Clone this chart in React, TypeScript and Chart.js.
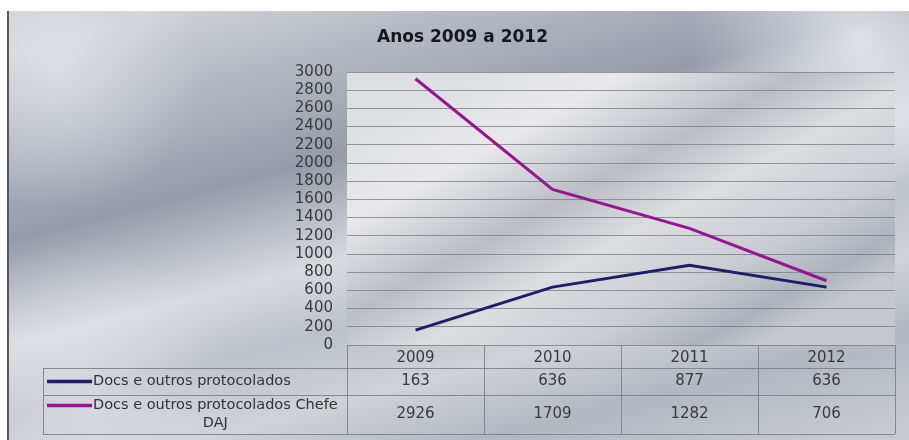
import React, { useEffect, useRef } from "react";
import { Chart, registerables } from "chart.js";

Chart.register(...registerables);

// ---- data ----
const titleText = "Anos 2009 a 2012";
const categories = ["2009", "2010", "2011", "2012"];
const seriesNames = ["Docs e outros protocolados", "Docs e outros protocolados Chefe DAJ"];
const docsProtocolados = [163, 636, 877, 636];
const docsChefeDAJ = [2926, 1709, 1282, 706];
const seriesColors = ["#1b1f68", "#961591"];
const yMin = 0;
const yMax = 3000;
const yStep = 200;

const FONT = "'DejaVu Sans', Verdana, sans-serif";

function wrapText(ctx: CanvasRenderingContext2D, text: string, maxW: number): string[] {
  const words = text.split(" ");
  const lines: string[] = [];
  let cur = "";
  for (const w of words) {
    const test = cur ? cur + " " + w : w;
    if (ctx.measureText(test).width > maxW && cur) {
      lines.push(cur);
      cur = w;
    } else cur = test;
  }
  if (cur) lines.push(cur);
  return lines;
}

function lightSpot(ctx: CanvasRenderingContext2D, x: number, y: number, r: number, alpha: number) {
  const rg = ctx.createRadialGradient(x, y, 0, x, y, r);
  rg.addColorStop(0, `rgba(232,234,238,${alpha})`);
  rg.addColorStop(1, "rgba(232,234,238,0)");
  ctx.fillStyle = rg;
  ctx.fillRect(x - r, y - r, r * 2, r * 2);
}

const backgroundPlugin = {
  id: "metalBackground",
  beforeDraw(chart: any) {
    const { ctx, width, height, chartArea: ca } = chart;
    ctx.save();
    ctx.fillStyle = "#ffffff";
    ctx.fillRect(0, 0, width, height);

    const frameX = 7;
    const frameY = 11;
    ctx.beginPath();
    ctx.rect(frameX, frameY, width - frameX, height - frameY);
    ctx.clip();

    const g = ctx.createLinearGradient(300, -20, 450, 560);
    g.addColorStop(0, "#cdd0d5");
    g.addColorStop(0.1, "#b9bdc5");
    g.addColorStop(0.2, "#a8adb8");
    g.addColorStop(0.3, "#959ba8");
    g.addColorStop(0.38, "#b5b9c2");
    g.addColorStop(0.47, "#d8dadf");
    g.addColorStop(0.58, "#bcc0c8");
    g.addColorStop(0.7, "#cfd2d7");
    g.addColorStop(0.82, "#b3b7c0");
    g.addColorStop(1, "#cacdd2");
    ctx.fillStyle = g;
    ctx.fillRect(frameX, frameY, width - frameX, height - frameY);

    lightSpot(ctx, 860, 40, 170, 0.85);
    lightSpot(ctx, 60, 70, 140, 0.6);
    lightSpot(ctx, 80, 400, 160, 0.55);

    // plot area
    const pg = ctx.createLinearGradient(ca.left + 120, ca.top, ca.left + 300, ca.bottom + 60);
    pg.addColorStop(0, "#dedfe2");
    pg.addColorStop(0.2, "#e9e9eb");
    pg.addColorStop(0.42, "#babdc4");
    pg.addColorStop(0.58, "#dcdde0");
    pg.addColorStop(0.78, "#c9ccd2");
    pg.addColorStop(0.92, "#aeb2bb");
    pg.addColorStop(1, "#c4c7cd");
    ctx.fillStyle = pg;
    ctx.fillRect(ca.left, ca.top, ca.right - ca.left, ca.bottom - ca.top);

    // frame left line
    ctx.strokeStyle = "#5a5a5a";
    ctx.lineWidth = 2;
    ctx.beginPath();
    ctx.moveTo(frameX + 1, frameY);
    ctx.lineTo(frameX + 1, height);
    ctx.stroke();
    ctx.restore();
  },
};

const dataTablePlugin = {
  id: "dataTable",
  afterDraw(chart: any) {
    const { ctx, chartArea: ca } = chart;
    const xs = chart.scales.x;
    const n = categories.length;
    const colW = (ca.right - ca.left) / n;
    const headerTop = ca.bottom;
    const row1Top = headerTop + 23;
    const row2Top = row1Top + 27;
    const tableBottom = row2Top + 39;
    const tableLeft = 43;
    const markerX0 = 47;
    const markerX1 = 92;
    const labelX = 93;

    ctx.save();
    ctx.strokeStyle = "rgba(125,128,136,0.9)";
    ctx.lineWidth = 1;
    ctx.beginPath();
    for (let i = 0; i <= n; i++) {
      const x = Math.round(ca.left + i * colW) + 0.5;
      ctx.moveTo(x, headerTop);
      ctx.lineTo(x, tableBottom);
    }
    for (const y of [row1Top, row2Top, tableBottom]) {
      ctx.moveTo(tableLeft, Math.round(y) + 0.5);
      ctx.lineTo(ca.right, Math.round(y) + 0.5);
    }
    ctx.moveTo(tableLeft + 0.5, row1Top);
    ctx.lineTo(tableLeft + 0.5, tableBottom);
    ctx.stroke();

    const rows = [
      { top: row1Top, bottom: row2Top, data: docsProtocolados },
      { top: row2Top, bottom: tableBottom, data: docsChefeDAJ },
    ];
    ctx.font = `14.5px ${FONT}`;
    ctx.textBaseline = "middle";
    rows.forEach((r, k) => {
      const lines = wrapText(ctx, seriesNames[k], ca.left - labelX - 2);
      const lh = 18;
      const mid = (r.top + r.bottom) / 2;
      const firstY = mid - ((lines.length - 1) * lh) / 2;
      // legend marker
      ctx.strokeStyle = seriesColors[k];
      ctx.lineWidth = 3.5;
      ctx.beginPath();
      ctx.moveTo(markerX0, firstY);
      ctx.lineTo(markerX1, firstY);
      ctx.stroke();
      // label
      ctx.fillStyle = "#333333";
      const w0 = ctx.measureText(lines[0]).width;
      const center = labelX + w0 / 2;
      lines.forEach((ln, j) => {
        ctx.textAlign = "center";
        ctx.fillText(ln, center, firstY + j * lh);
      });
      // values
      ctx.font = `15px ${FONT}`;
      ctx.fillStyle = "#3a3a3a";
      ctx.textAlign = "center";
      r.data.forEach((v, i) => {
        ctx.fillText(String(v), xs.getPixelForValue(i), mid);
      });
      ctx.font = `14.5px ${FONT}`;
    });
    ctx.restore();
  },
};

export default function App() {
  const canvasRef = useRef<HTMLCanvasElement | null>(null);

  useEffect(() => {
    if (!canvasRef.current) return;
    const chart = new Chart(canvasRef.current, {
      type: "line",
      data: {
        labels: categories,
        datasets: [
          {
            label: seriesNames[0],
            data: docsProtocolados,
            borderColor: seriesColors[0],
            backgroundColor: seriesColors[0],
            borderWidth: 3,
            pointRadius: 0,
            tension: 0,
          },
          {
            label: seriesNames[1],
            data: docsChefeDAJ,
            borderColor: seriesColors[1],
            backgroundColor: seriesColors[1],
            borderWidth: 3,
            pointRadius: 0,
            tension: 0,
          },
        ],
      },
      options: {
        animation: false,
        responsive: false,
        maintainAspectRatio: false,
        layout: { padding: { left: 30, right: 14, top: 0, bottom: 0 } },
        plugins: {
          legend: { display: false },
          tooltip: { enabled: false },
          title: {
            display: true,
            text: titleText,
            color: "#16161f",
            font: { family: FONT, size: 17, weight: "bold" },
            padding: { top: 27.8, bottom: 23.8 },
          },
        },
        scales: {
          x: {
            offset: true,
            grid: { display: false, drawTicks: false },
            border: { display: false },
            ticks: {
              color: "#3a3a3a",
              font: { family: FONT, size: 15 },
              padding: 4,
              maxRotation: 0,
            },
            afterFit: (s: any) => {
              s.height = 95;
            },
          },
          y: {
            min: yMin,
            max: yMax,
            grid: { color: "rgba(120,122,128,0.75)", lineWidth: 1, drawTicks: false },
            border: { display: false },
            ticks: {
              stepSize: yStep,
              autoSkip: false,
              color: "#3a3a3a",
              font: { family: FONT, size: 15 },
              padding: 14,
              callback: (v: any) => String(v),
            },
            afterFit: (s: any) => {
              s.width = 317;
            },
          },
        },
      },
      plugins: [backgroundPlugin, dataTablePlugin],
    });
    return () => chart.destroy();
  }, []);

  return (
    <div style={{ position: "fixed", left: 0, top: 0, width: 909, height: 440 }}>
      <canvas ref={canvasRef} width={909} height={440} style={{ display: "block" }} />
    </div>
  );
}
